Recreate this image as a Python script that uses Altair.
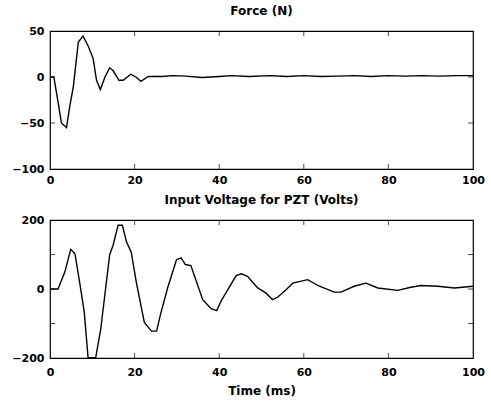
import altair as alt
import pandas as pd

# ---- data ----
force_t = [0, 0.9, 1.9, 2.7, 3.9, 4.7, 5.5, 6.7, 7.8, 9.0, 10.2, 11.0, 11.9, 13.0,
           14.1, 14.9, 16.3, 17.3, 19.1, 20.3, 21.5, 23.2, 26.4, 29, 32, 36, 40,
           43, 47, 52, 56, 60, 64, 68, 72, 76, 80, 84, 88, 92, 96, 100]
force_v = [0, 0, -27, -50, -55, -31, -11, 38, 44.6, 34, 20, -3.6, -13.7, 0,
           10, 7, -3.6, -3.6, 3, 0, -4.7, 0.7, 0.5, 1.5, 1, -0.5, 0.5,
           1.5, 0.5, 1.5, 0.5, 1.5, 0.5, 1, 1.5, 0.5, 1.5, 1, 1.5, 1, 1.5, 1.5]

volt_t = [0, 1.9, 3.5, 4.9, 5.9, 7.0, 8.1, 9.0, 10.8, 12.0, 14.1, 14.9, 16.1, 17.1,
          18.1, 19.2, 20.4, 22.3, 24.0, 25.2, 26.1, 27.8, 29.9, 31.0, 32.0, 33.3,
          36.1, 38.1, 39.4, 40.4, 44.0, 45.2, 46.7, 49.1, 51.1, 52.6, 53.8, 55.8,
          57.4, 60.9, 63.7, 67.2, 68.8, 71.9, 74.7, 77.5, 82.2, 85.3, 87.7, 91.7,
          95.6, 100]
volt_v = [0, 0, 49, 115, 102, 20, -67, -199, -199, -116, 99, 126, 185, 185,
          136, 107, 20, -97, -122, -122, -75, 3, 85, 90, 71, 68,
          -31, -57, -63, -36, 39, 44, 37, 3, -12, -31, -24, -2,
          17, 27, 8, -9, -9, 8, 17, 3, -4, 5, 10, 8,
          3, 8]

x_ticks = [0, 20, 40, 60, 80, 100]
force_ticks = [-100, -50, 0, 50]
volt_ticks = [-200, -100, 0, 100, 200]

top_title = "Force (N)"
bottom_title = "Input Voltage for PZT (Volts)"
x_title = "Time (ms)"

FONT = "DejaVu Sans"
W, H = 423, 138


def panel(ts, vs, yticks, title, xtitle, xlabpad):
    xdom = [x_ticks[0], x_ticks[-1]]
    ydom = [yticks[0], yticks[-1]]
    xs = alt.Scale(domain=xdom, nice=False, zero=False)
    ys = alt.Scale(domain=ydom, nice=False, zero=False)
    xaxis = alt.Axis(values=x_ticks, title=xtitle, labelFlush=False,
                     labelOverlap=False, labelPadding=xlabpad, titlePadding=8)
    yaxis = alt.Axis(values=yticks, title=None, labelFlush=False,
                     labelOverlap=False, labelPadding=6)

    line = alt.Chart(pd.DataFrame({"t": ts, "v": vs})).mark_line(
        color="black", strokeWidth=1.4, clip=True
    ).encode(
        x=alt.X("t:Q", scale=xs, axis=xaxis),
        y=alt.Y("v:Q", scale=ys, axis=yaxis),
    )

    inner_x = x_ticks[1:-1]
    inner_y = yticks[1:-1]
    bot = alt.Chart(pd.DataFrame({"t": inner_x, "v": [ydom[0]] * len(inner_x)})).mark_tick(
        orient="vertical", size=5, thickness=1, color="black", yOffset=-2.5
    ).encode(x="t:Q", y="v:Q")
    top = alt.Chart(pd.DataFrame({"t": inner_x, "v": [ydom[1]] * len(inner_x)})).mark_tick(
        orient="vertical", size=5, thickness=1, color="black", yOffset=2.5
    ).encode(x="t:Q", y="v:Q")
    left = alt.Chart(pd.DataFrame({"t": [xdom[0]] * len(inner_y), "v": inner_y})).mark_tick(
        orient="horizontal", size=5, thickness=1, color="black", xOffset=2.5
    ).encode(x="t:Q", y="v:Q")
    right = alt.Chart(pd.DataFrame({"t": [xdom[1]] * len(inner_y), "v": inner_y})).mark_tick(
        orient="horizontal", size=5, thickness=1, color="black", xOffset=-2.5
    ).encode(x="t:Q", y="v:Q")

    return alt.layer(line, bot, top, left, right).properties(
        width=W, height=H,
        title=alt.TitleParams(title, offset=7, fontSize=12, font=FONT,
                              fontWeight="bold", color="black"),
    )


chart = alt.vconcat(
    panel(force_t, force_v, force_ticks, top_title, None, 5),
    panel(volt_t, volt_v, volt_ticks, bottom_title, x_title, 8),
    spacing=7,
).properties(
    padding={"left": 11, "top": 4, "right": 4, "bottom": 1},
    background="white",
).configure_view(
    stroke="black", strokeWidth=1.2
).configure_axis(
    grid=False, domain=False, ticks=False,
    labelFont=FONT, labelFontSize=11, labelFontWeight="bold", labelColor="black",
    titleFont=FONT, titleFontSize=12, titleFontWeight="bold", titleColor="black",
)

chart.save("out.html", embed_options={"renderer": "svg", "actions": False})
